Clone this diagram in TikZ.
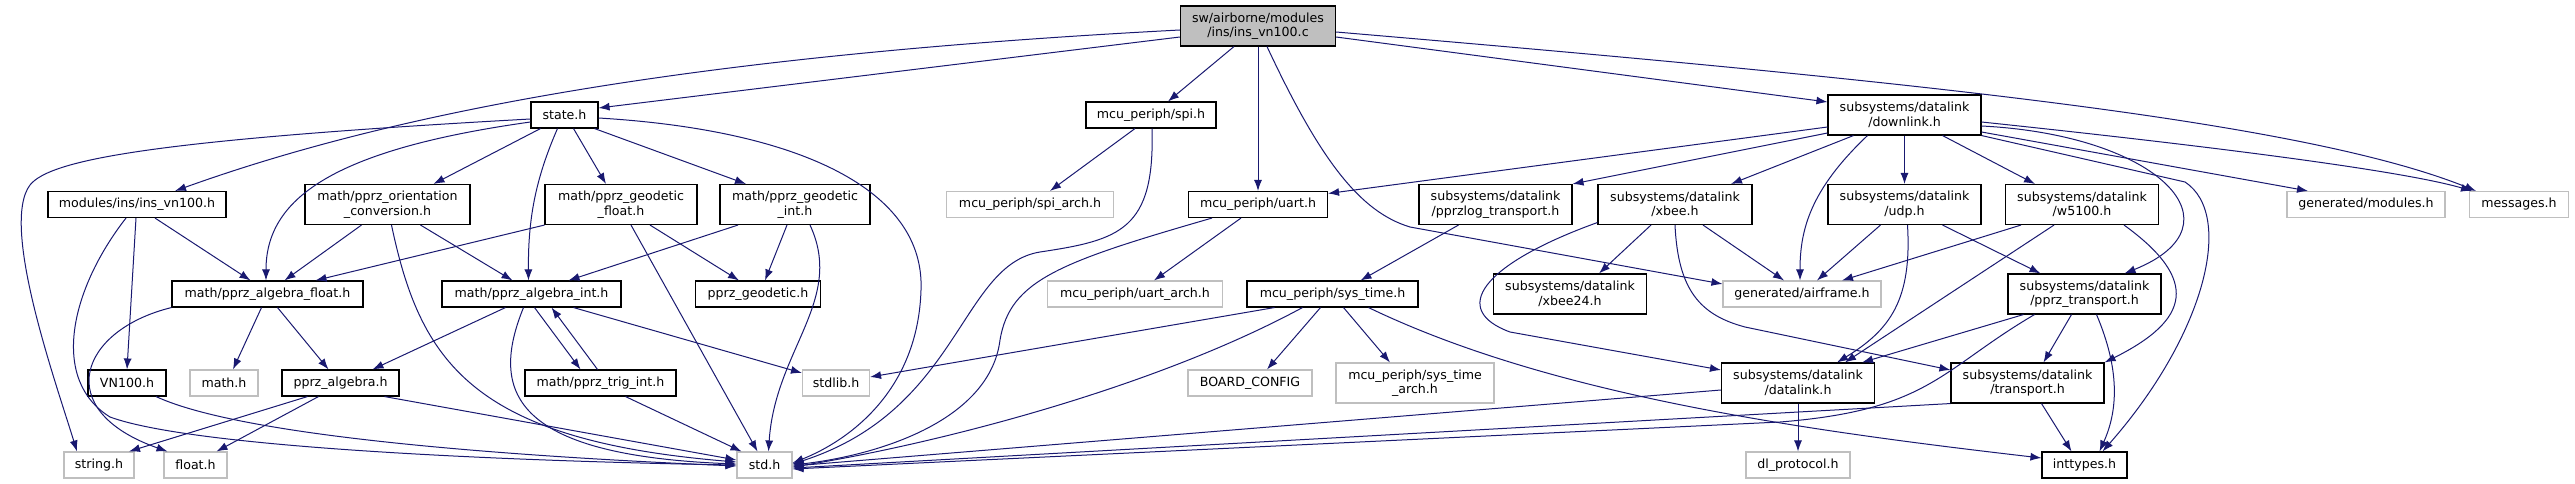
\documentclass[tikz,border=0pt]{standalone}
\usepackage{fontspec}
\setmainfont{DejaVu Sans}
\usetikzlibrary{arrows.meta}
\definecolor{EdgeBlue}{RGB}{25,25,112}
\definecolor{ExtGray}{RGB}{191,191,191}
\definecolor{RootGray}{RGB}{191,191,191}

\begin{document}
\begin{tikzpicture}[
  x=1pt, y=-1pt,
  font=\fontsize{12.6}{14.5}\selectfont,
  box/.style={
    rectangle,
    draw=black,
    line width=1.1pt,
    fill=white,
    align=center,
    inner sep=0pt,
    minimum height=26pt
  },
  tall/.style={box, minimum height=40pt},
  ext/.style={box, draw=ExtGray},
  root/.style={tall, fill=RootGray},
  arrow/.style={-{Latex[length=11pt,width=8pt]}, EdgeBlue, line width=1pt}
]

  \useasboundingbox (0,0) rectangle (2575,484);

  \node[root, minimum width=155pt] (main) at (1258,26) {sw/airborne/modules\\/ins/ins\_vn100.c};

  \node[box, minimum width=67pt] (state) at (564.5,115) {state.h};
  \node[box, minimum width=130pt] (spi) at (1151,115) {mcu\_periph/spi.h};
  \node[tall, minimum width=153pt] (downlink) at (1904.5,115) {subsystems/datalink\\/downlink.h};

  \node[box, minimum width=178pt] (insh) at (137,204.5) {modules/ins/ins\_vn100.h};
  \node[tall, minimum width=165pt] (orient) at (387.5,204.5) {math/pprz\_orientation\\\_conversion.h};
  \node[tall, minimum width=152pt] (geofloat) at (621,204.5) {math/pprz\_geodetic\\\_float.h};
  \node[tall, minimum width=150pt] (geoint) at (795,204.5) {math/pprz\_geodetic\\\_int.h};
  \node[ext, minimum width=167pt] (spiarch) at (1030,204.5) {mcu\_periph/spi\_arch.h};
  \node[box, minimum width=139pt] (uart) at (1258,204.5) {mcu\_periph/uart.h};
  \node[tall, minimum width=153pt] (pprzlog) at (1495.5,204.5) {subsystems/datalink\\/pprzlog\_transport.h};
  \node[tall, minimum width=154pt] (xbee) at (1675,204.5) {subsystems/datalink\\/xbee.h};
  \node[tall, minimum width=153pt] (udp) at (1904.5,204.5) {subsystems/datalink\\/udp.h};
  \node[tall, minimum width=153pt] (w5100) at (2082,204.5) {subsystems/datalink\\/w5100.h};
  \node[ext, minimum width=158pt] (modules) at (2366,204.5) {generated/modules.h};
  \node[ext, minimum width=99pt] (messages) at (2519,204.5) {messages.h};

  \node[box, minimum width=191pt] (algfloat) at (267.5,294) {math/pprz\_algebra\_float.h};
  \node[box, minimum width=179pt] (algint) at (531.5,294) {math/pprz\_algebra\_int.h};
  \node[box, minimum width=125pt] (geodetic) at (758,294) {pprz\_geodetic.h};
  \node[ext, minimum width=175pt] (uartarch) at (1135,294) {mcu\_periph/uart\_arch.h};
  \node[box, minimum width=171pt] (systime) at (1332.5,294) {mcu\_periph/sys\_time.h};
  \node[tall, minimum width=153pt] (xbee24) at (1570,294) {subsystems/datalink\\/xbee24.h};
  \node[ext, minimum width=158pt] (airframe) at (1802,294) {generated/airframe.h};
  \node[tall, minimum width=153pt] (pprztransport) at (2084.5,294) {subsystems/datalink\\/pprz\_transport.h};

  \node[box, minimum width=78pt] (vn100) at (127,383) {VN100.h};
  \node[ext, minimum width=68pt] (math) at (224,383) {math.h};
  \node[box, minimum width=117pt] (pprzalgebra) at (340.5,383) {pprz\_algebra.h};
  \node[box, minimum width=151pt] (trigint) at (600.5,383) {math/pprz\_trig\_int.h};
  \node[ext, minimum width=67pt] (stdlib) at (836,383) {stdlib.h};
  \node[ext, minimum width=124pt] (boardconfig) at (1250,383) {BOARD\_CONFIG};
  \node[ext, minimum width=158pt, minimum height=40pt] (systimearch) at (1415,383) {mcu\_periph/sys\_time\\\_arch.h};
  \node[tall, minimum width=153pt] (datalink) at (1798,383) {subsystems/datalink\\/datalink.h};
  \node[tall, minimum width=153pt] (transport) at (2027.5,383) {subsystems/datalink\\/transport.h};

  \node[ext, minimum width=70pt] (string) at (99,465) {string.h};
  \node[ext, minimum width=63pt] (float) at (195.5,465) {float.h};
  \node[ext, minimum width=55pt] (std) at (764.5,465) {std.h};
  \node[ext, minimum width=104pt] (dlprotocol) at (1798,465) {dl\_protocol.h};
  \node[box, minimum width=85pt] (inttypes) at (2084.5,465) {inttypes.h};

  \draw[arrow] ([yshift=-11pt]main.west) -- ([yshift=7pt]state.east);
  \draw[arrow] ([yshift=-4pt]main.west) .. controls (700,55) and (400,110) .. ([xshift=38pt]insh.north);
  \draw[arrow] ([xshift=-24pt]main.south) -- ([xshift=17pt]spi.north);
  \draw[arrow] (main.south) -- (uart.north);
  \draw[arrow] ([xshift=9pt]main.south) .. controls (1320,160) and (1360,212) .. (1410,227) -- ([yshift=10pt]airframe.west);
  \draw[arrow] ([yshift=-11pt]main.east) -- ([yshift=13pt]downlink.west);
  \draw[arrow] ([yshift=-6pt]main.east) .. controls (1900,80) and (2300,120) .. ([xshift=-43pt]messages.north);

  \draw[arrow] ([yshift=-4pt]state.west) .. controls (150,140) and (50,160) .. (30,185) .. controls (0,225) and (55,380) .. ([xshift=-22pt]string.north);
  \draw[arrow] ([yshift=-7pt]state.west) .. controls (330,150) and (266,200) .. ([xshift=-1.5pt]algfloat.north);
  \draw[arrow] ([xshift=-24pt]state.south) -- ([xshift=46pt]orient.north);
  \draw[arrow] ([xshift=-7pt]state.south) .. controls (535,180) and (528,220) .. ([xshift=-3pt]algint.north);
  \draw[arrow] ([xshift=9pt]state.south) -- ([xshift=-15pt]geofloat.north);
  \draw[arrow] ([xshift=30pt]state.south) -- ([xshift=-49pt]geoint.north);
  \draw[arrow] ([yshift=-3pt]state.east) .. controls (800,130) and (925,190) .. (921,290) .. controls (918,390) and (850,440) .. ([yshift=2pt]std.east);

  \draw[arrow] ([xshift=18pt]insh.south) -- ([xshift=-17pt]algfloat.north);
  \draw[arrow] ([xshift=-1pt]insh.south) -- (vn100.north);
  \draw[arrow] ([xshift=-11pt]insh.south) .. controls (70,290) and (50,380) .. (110,417) .. controls (200,450) and (550,462) .. (std.west);

  \draw[arrow] ([xshift=-26pt]orient.south) -- ([xshift=17pt]algfloat.north);
  \draw[arrow] ([xshift=33pt]orient.south) -- ([xshift=-19pt]algint.north);
  \draw[arrow] ([xshift=4pt]orient.south) .. controls (420,360) and (470,440) .. ([yshift=3pt]std.west);

  \draw[arrow] (geofloat.south west) -- ([xshift=48pt]algfloat.north);
  \draw[arrow] ([xshift=29pt]geofloat.south) -- ([xshift=-19pt]geodetic.north);
  \draw[arrow] ([xshift=10pt]geofloat.south) -- ([xshift=-7pt]std.north);

  \draw[arrow] ([xshift=-57pt]geoint.south) -- ([xshift=37pt]algint.north);
  \draw[arrow] ([xshift=-8pt]geoint.south) -- ([xshift=7pt]geodetic.north);
  \draw[arrow] ([xshift=15pt]geoint.south) .. controls (845,300) and (775,350) .. ([xshift=4pt]std.north);

  \draw[arrow] ([xshift=-6pt]algfloat.south) -- ([xshift=9pt]math.north);
  \draw[arrow] ([xshift=10pt]algfloat.south) -- ([xshift=-12pt]pprzalgebra.north);
  \draw[arrow] (algfloat.south west) .. controls (80,330) and (50,410) .. ([xshift=-28pt]float.north);

  \draw[arrow] ([xshift=-26pt]algint.south) -- ([xshift=32pt]pprzalgebra.north);
  \draw[arrow] ([xshift=3pt]algint.south) -- ([xshift=-20pt]trigint.north);
  \draw[arrow] ([xshift=-8pt]algint.south) .. controls (490,390) and (510,455) .. ([yshift=1pt]std.west);
  \draw[arrow] ([xshift=42pt]algint.south) -- ([yshift=10pt]stdlib.west);
  \draw[arrow] ([xshift=-3pt]trigint.north) -- ([xshift=20pt]algint.south);
  \draw[arrow] ([xshift=25pt]trigint.south) -- ([xshift=-23pt]std.north);

  \draw[arrow] ([xshift=-33pt]pprzalgebra.south) -- ([xshift=30pt]string.north);
  \draw[arrow] ([xshift=-22pt]pprzalgebra.south) -- ([xshift=21pt]float.north);
  \draw[arrow] ([xshift=44pt]pprzalgebra.south) -- ([yshift=5pt]std.west);
  \draw[arrow] ([xshift=29pt]vn100.south) .. controls (250,440) and (550,458) .. ([yshift=-1pt]std.west);

  \draw[arrow] ([xshift=-16pt]spi.south) -- ([xshift=20pt]spiarch.north);
  \draw[arrow] ([xshift=1pt]spi.south) .. controls (1155,230) and (1120,240) .. (1040,252) .. controls (960,265) and (960,410) .. ([yshift=1pt]std.east);

  \draw[arrow] ([xshift=-17pt]uart.south) -- ([xshift=19pt]uartarch.north);
  \draw[arrow] ([xshift=-46pt]uart.south) .. controls (1060,262) and (1010,280) .. (1000,340) .. controls (990,420) and (880,455) .. (std.east);

  \draw[arrow] ([yshift=-12pt]downlink.west) -- ([yshift=11pt]uart.east);
  \draw[arrow] ([yshift=-18pt]downlink.west) -- (pprzlog.north east);
  \draw[arrow] ([xshift=-51pt]downlink.south) -- ([xshift=56pt]xbee.north);
  \draw[arrow] ([xshift=-37pt]downlink.south) .. controls (1810,190) and (1800,230) .. ([xshift=-2pt]airframe.north);
  \draw[arrow] (downlink.south) -- (udp.north);
  \draw[arrow] ([xshift=38pt]downlink.south) -- ([xshift=-47pt]w5100.north);
  \draw[arrow] ([yshift=-7pt]downlink.east) .. controls (2200,145) and (2400,170) .. ([xshift=-47pt]messages.north);
  \draw[arrow] ([yshift=-11pt]downlink.east) .. controls (2160,135) and (2245,225) .. ([xshift=40pt]pprztransport.north);
  \draw[arrow] ([yshift=-17pt]downlink.east) -- ([xshift=-58pt]modules.north);
  \draw[arrow] (downlink.south east) -- (2185,182) .. controls (2235,215) and (2205,335) .. ([xshift=18pt]inttypes.north);

  \draw[arrow] ([xshift=-37pt]pprzlog.south) -- ([xshift=28pt]systime.north);

  \draw[arrow] ([xshift=-24pt]xbee.south) -- ([xshift=29pt]xbee24.north);
  \draw[arrow] ([xshift=28pt]xbee.south) -- ([xshift=-18pt]airframe.north);
  \draw[arrow] ([yshift=-18pt]xbee.west) .. controls (1480,265) and (1450,310) .. (1510,332) -- ([yshift=13pt]datalink.west);
  \draw[arrow] (xbee.south) .. controls (1678,290) and (1700,315) .. (1745,327) -- ([yshift=13pt]transport.west);

  \draw[arrow] ([xshift=-58pt]systime.south) -- ([yshift=6pt]stdlib.east);
  \draw[arrow] ([xshift=-30pt]systime.south) .. controls (1150,390) and (930,445) .. ([yshift=-2pt]std.east);
  \draw[arrow] ([xshift=-12pt]systime.south) -- ([xshift=17pt]boardconfig.north);
  \draw[arrow] ([xshift=11pt]systime.south) -- ([xshift=-25pt]systimearch.north);
  \draw[arrow] ([xshift=36pt]systime.south) .. controls (1550,395) and (1800,430) .. ([yshift=7pt]inttypes.west);

  \draw[arrow] ([xshift=-24pt]udp.south) -- ([xshift=15pt]airframe.north);
  \draw[arrow] ([xshift=3pt]udp.south) .. controls (1912,300) and (1890,330) .. ([xshift=39pt]datalink.north);
  \draw[arrow] ([xshift=38pt]udp.south) -- ([xshift=-44pt]pprztransport.north);

  \draw[arrow] ([xshift=-61pt]w5100.south) -- ([xshift=40pt]airframe.north);
  \draw[arrow] ([xshift=-28pt]w5100.south) -- ([xshift=47pt]datalink.north);
  \draw[arrow] ([xshift=42pt]w5100.south) .. controls (2200,280) and (2190,320) .. (transport.north east);

  \draw[arrow] ([xshift=-61pt]pprztransport.south) -- ([xshift=64pt]datalink.north);
  \draw[arrow] ([xshift=-50pt]pprztransport.south) .. controls (1940,370) and (1930,410) .. (1780,422) -- ([yshift=-4pt]std.east);
  \draw[arrow] ([xshift=-13pt]pprztransport.south) -- ([xshift=16pt]transport.north);
  \draw[arrow] ([xshift=12pt]pprztransport.south) .. controls (2120,370) and (2118,410) .. ([xshift=15pt]inttypes.north);

  \draw[arrow] (datalink.south) -- (dlprotocol.north);
  \draw[arrow] ([yshift=-7pt]datalink.west) -- ([yshift=-1pt]std.east);
  \draw[arrow] (transport.south west) -- ([yshift=-3pt]std.east);
  \draw[arrow] ([xshift=14pt]transport.south) -- ([xshift=-13pt]inttypes.north);

\end{tikzpicture}
\end{document}
